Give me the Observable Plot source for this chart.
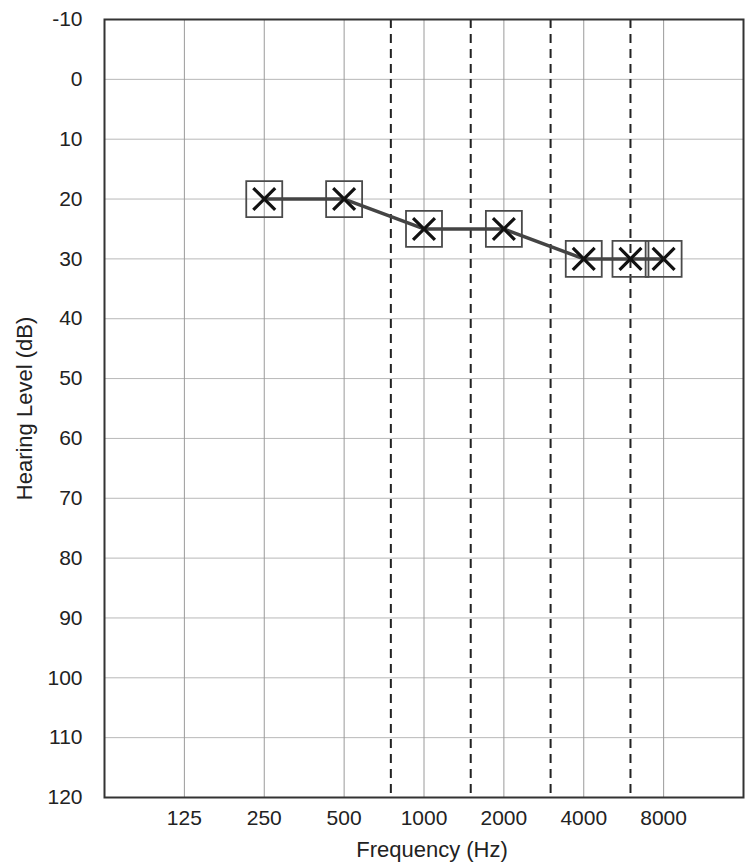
<!DOCTYPE html>
<html>
<head>
<meta charset="utf-8">
<script src="https://cdn.jsdelivr.net/npm/d3@7"></script>
<script src="https://cdn.jsdelivr.net/npm/@observablehq/plot@0.6"></script>
<style>
  html, body { margin: 0; padding: 0; background: #ffffff; }
  #chart { width: 752px; height: 867px; }
  svg { font-family: "Liberation Sans", Arial, sans-serif; }
</style>
</head>
<body>
<div id="chart"></div>
<script>
// Data
const frequencies = [250, 500, 1000, 2000, 4000, 6000, 8000];
const hearingLevels = [20, 20, 25, 25, 30, 30, 30];
const octaveTicks = [125, 250, 500, 1000, 2000, 4000, 8000];
const interOctave = [750, 1500, 3000, 6000];
const levelTicks = [-10, 0, 10, 20, 30, 40, 50, 60, 70, 80, 90, 100, 110, 120];
const gridLevels = [0, 10, 20, 30, 40, 50, 60, 70, 80, 90, 100, 110];

const points = frequencies.map((f, i) => ({freq: f, level: hearingLevels[i]}));

const chart = Plot.plot({
  width: 752,
  height: 867,
  marginLeft: 104,
  marginRight: 9,
  marginTop: 19,
  marginBottom: 70,
  style: {fontFamily: "'Liberation Sans', Arial, sans-serif", fontSize: "21px", color: "#222", background: "#fff"},
  x: {type: "log", domain: [62.5, 16000], label: null, axis: null},
  y: {domain: [-10, 120], reverse: true, label: null},
  marks: [
    Plot.ruleY(gridLevels, {stroke: "#b8b8b8", strokeWidth: 1}),
    Plot.ruleX(octaveTicks, {stroke: "#9a9a9a", strokeWidth: 1}),
    Plot.ruleX(interOctave, {stroke: "#222", strokeWidth: 2, strokeDasharray: "9,6"}),
    Plot.frame({stroke: "#333", strokeWidth: 2}),
    Plot.text(octaveTicks, {x: d => d, text: d => String(d), frameAnchor: "bottom", lineAnchor: "middle", dy: 21, fontSize: 21, fill: "#222"}),
    Plot.axisY(levelTicks, {tickFormat: d => String(d), tickSize: 0, tickPadding: 22, fontSize: 21, label: null}),
    Plot.dot(points, {x: "freq", y: "level", symbol: "square", r: 20.3, fill: "none", stroke: "#4a4a4a", strokeWidth: 1.8}),
    Plot.line(points, {x: "freq", y: "level", stroke: "#444", strokeWidth: 3.5}),
    Plot.dot(points, {x: "freq", y: "level", symbol: "times", r: 10, stroke: "#111", strokeWidth: 3.2}),
    Plot.text(["Frequency (Hz)"], {frameAnchor: "bottom", textAnchor: "middle", lineAnchor: "middle", dx: 8, dy: 52, fontSize: 22, fill: "#222"}),
    Plot.text(["Hearing Level (dB)"], {frameAnchor: "left", textAnchor: "middle", lineAnchor: "middle", dx: -80, rotate: -90, fontSize: 22, fill: "#222"})
  ]
});
document.getElementById("chart").appendChild(chart);
</script>
</body>
</html>
